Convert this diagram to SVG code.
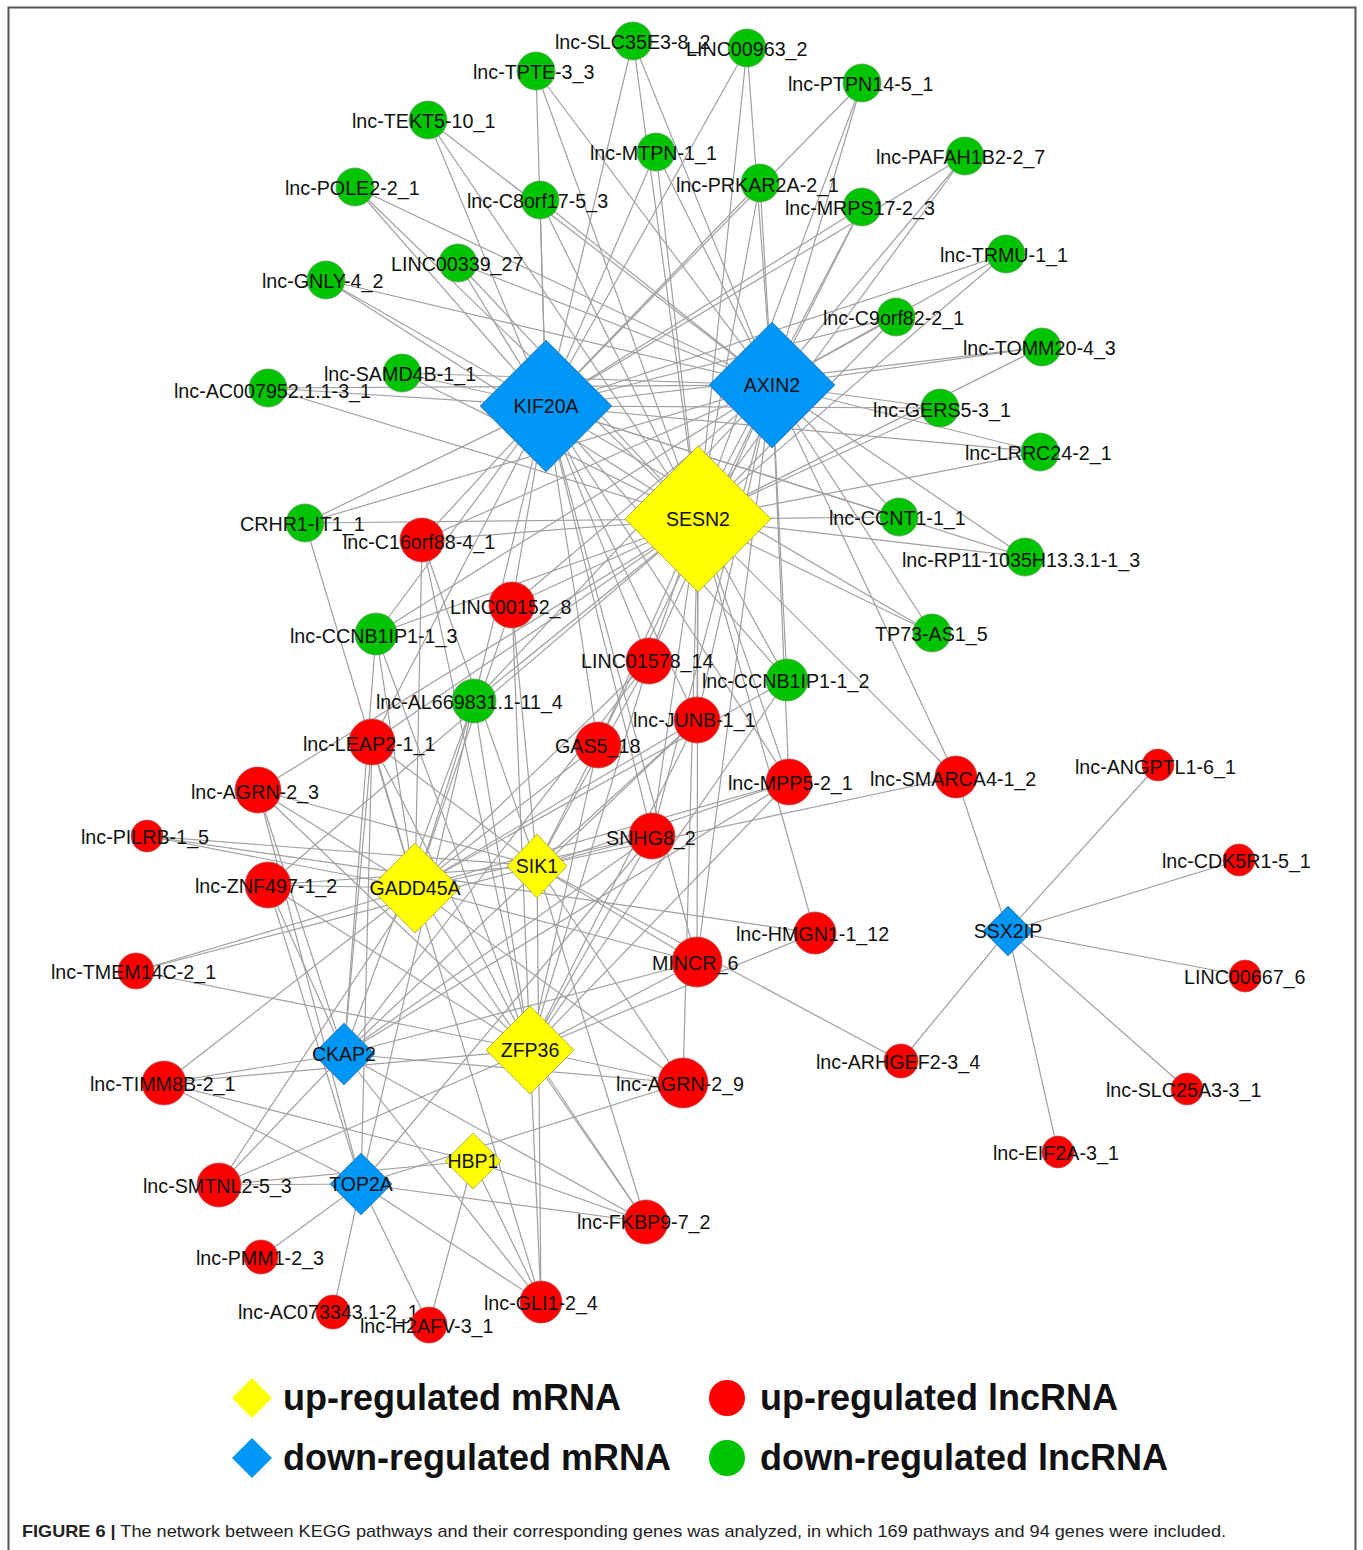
<svg xmlns="http://www.w3.org/2000/svg" width="1363" height="1550" viewBox="0 0 1363 1550">
<style>
.e line{stroke:#a0a0a0;stroke-width:1.2}
.g{fill:#00c400;stroke:#6a9a6a;stroke-width:0.8}
.r{fill:#ff0000;stroke:#b05050;stroke-width:0.8}
.dy{fill:#ffff00;stroke:#a0a040;stroke-width:0.8}
.db{fill:#0096f6;stroke:#5080a0;stroke-width:0.8}
text{font-family:"Liberation Sans",Arial,sans-serif;fill:#111}
.l{font-size:19.7px}
.c{font-size:19.5px;text-anchor:middle}
.lg{font-size:36px;font-weight:bold}
.cap{font-size:17px;fill:#222}
</style>
<rect width="1363" height="1550" fill="#fff"/>
<path d="M8.5,1550 V7.5 H1355.5 V1550" fill="none" stroke="#555" stroke-width="2"/>
<g id="connectors" class="e">
<line x1="633" y1="41" x2="546" y2="406"/><line x1="633" y1="41" x2="772" y2="385"/><line x1="633" y1="41" x2="698" y2="519"/>
<line x1="747" y1="48" x2="546" y2="406"/><line x1="747" y1="48" x2="772" y2="385"/><line x1="747" y1="48" x2="698" y2="519"/>
<line x1="536" y1="71" x2="546" y2="406"/><line x1="536" y1="71" x2="772" y2="385"/><line x1="536" y1="71" x2="698" y2="519"/>
<line x1="862" y1="83" x2="546" y2="406"/><line x1="862" y1="83" x2="772" y2="385"/><line x1="862" y1="83" x2="698" y2="519"/>
<line x1="428" y1="120" x2="546" y2="406"/><line x1="428" y1="120" x2="772" y2="385"/><line x1="428" y1="120" x2="698" y2="519"/>
<line x1="656" y1="152" x2="546" y2="406"/><line x1="656" y1="152" x2="772" y2="385"/><line x1="656" y1="152" x2="698" y2="519"/>
<line x1="965" y1="156" x2="546" y2="406"/><line x1="965" y1="156" x2="772" y2="385"/><line x1="965" y1="156" x2="698" y2="519"/>
<line x1="355" y1="187" x2="546" y2="406"/><line x1="355" y1="187" x2="772" y2="385"/><line x1="355" y1="187" x2="698" y2="519"/>
<line x1="540" y1="200" x2="546" y2="406"/><line x1="540" y1="200" x2="772" y2="385"/><line x1="540" y1="200" x2="698" y2="519"/>
<line x1="760" y1="183" x2="546" y2="406"/><line x1="760" y1="183" x2="772" y2="385"/><line x1="760" y1="183" x2="698" y2="519"/>
<line x1="862" y1="207" x2="546" y2="406"/><line x1="862" y1="207" x2="772" y2="385"/><line x1="862" y1="207" x2="698" y2="519"/>
<line x1="1006" y1="254" x2="546" y2="406"/><line x1="1006" y1="254" x2="772" y2="385"/><line x1="1006" y1="254" x2="698" y2="519"/>
<line x1="458" y1="263" x2="546" y2="406"/><line x1="458" y1="263" x2="772" y2="385"/><line x1="458" y1="263" x2="698" y2="519"/>
<line x1="326" y1="280" x2="546" y2="406"/><line x1="326" y1="280" x2="772" y2="385"/><line x1="326" y1="280" x2="698" y2="519"/>
<line x1="896" y1="317" x2="546" y2="406"/><line x1="896" y1="317" x2="772" y2="385"/><line x1="896" y1="317" x2="698" y2="519"/>
<line x1="1042" y1="347" x2="546" y2="406"/><line x1="1042" y1="347" x2="772" y2="385"/><line x1="1042" y1="347" x2="698" y2="519"/>
<line x1="402" y1="373" x2="546" y2="406"/><line x1="402" y1="373" x2="772" y2="385"/><line x1="402" y1="373" x2="698" y2="519"/>
<line x1="268" y1="388" x2="546" y2="406"/><line x1="268" y1="388" x2="772" y2="385"/><line x1="268" y1="388" x2="698" y2="519"/>
<line x1="940" y1="408" x2="546" y2="406"/><line x1="940" y1="408" x2="772" y2="385"/><line x1="940" y1="408" x2="698" y2="519"/>
<line x1="1040" y1="452" x2="546" y2="406"/><line x1="1040" y1="452" x2="772" y2="385"/><line x1="1040" y1="452" x2="698" y2="519"/>
<line x1="899" y1="517" x2="546" y2="406"/><line x1="899" y1="517" x2="772" y2="385"/><line x1="899" y1="517" x2="698" y2="519"/>
<line x1="1025" y1="557" x2="546" y2="406"/><line x1="1025" y1="557" x2="772" y2="385"/><line x1="1025" y1="557" x2="698" y2="519"/>
<line x1="932" y1="633" x2="546" y2="406"/><line x1="932" y1="633" x2="772" y2="385"/><line x1="932" y1="633" x2="698" y2="519"/>
<line x1="305" y1="523" x2="546" y2="406"/><line x1="305" y1="523" x2="772" y2="385"/><line x1="305" y1="523" x2="698" y2="519"/><line x1="305" y1="523" x2="415" y2="888"/>
<line x1="422" y1="540" x2="546" y2="406"/><line x1="422" y1="540" x2="772" y2="385"/><line x1="422" y1="540" x2="698" y2="519"/><line x1="422" y1="540" x2="415" y2="888"/><line x1="422" y1="540" x2="537" y2="866"/><line x1="422" y1="540" x2="530" y2="1050"/>
<line x1="512" y1="605" x2="546" y2="406"/><line x1="512" y1="605" x2="772" y2="385"/><line x1="512" y1="605" x2="698" y2="519"/><line x1="512" y1="605" x2="415" y2="888"/><line x1="512" y1="605" x2="537" y2="866"/><line x1="512" y1="605" x2="530" y2="1050"/>
<line x1="376" y1="634" x2="546" y2="406"/><line x1="376" y1="634" x2="772" y2="385"/><line x1="376" y1="634" x2="698" y2="519"/><line x1="376" y1="634" x2="415" y2="888"/><line x1="376" y1="634" x2="344" y2="1054"/><line x1="376" y1="634" x2="530" y2="1050"/>
<line x1="474" y1="701" x2="546" y2="406"/><line x1="474" y1="701" x2="772" y2="385"/><line x1="474" y1="701" x2="698" y2="519"/><line x1="474" y1="701" x2="415" y2="888"/><line x1="474" y1="701" x2="344" y2="1054"/><line x1="474" y1="701" x2="530" y2="1050"/><line x1="474" y1="701" x2="361" y2="1184"/>
<line x1="372" y1="742" x2="546" y2="406"/><line x1="372" y1="742" x2="698" y2="519"/><line x1="372" y1="742" x2="415" y2="888"/><line x1="372" y1="742" x2="530" y2="1050"/><line x1="372" y1="742" x2="361" y2="1184"/><line x1="372" y1="742" x2="344" y2="1054"/><line x1="372" y1="742" x2="537" y2="866"/>
<line x1="649" y1="661" x2="546" y2="406"/><line x1="649" y1="661" x2="772" y2="385"/><line x1="649" y1="661" x2="698" y2="519"/><line x1="649" y1="661" x2="415" y2="888"/><line x1="649" y1="661" x2="537" y2="866"/><line x1="649" y1="661" x2="530" y2="1050"/><line x1="649" y1="661" x2="344" y2="1054"/>
<line x1="697" y1="720" x2="546" y2="406"/><line x1="697" y1="720" x2="772" y2="385"/><line x1="697" y1="720" x2="698" y2="519"/><line x1="697" y1="720" x2="415" y2="888"/><line x1="697" y1="720" x2="537" y2="866"/><line x1="697" y1="720" x2="530" y2="1050"/><line x1="697" y1="720" x2="344" y2="1054"/>
<line x1="598" y1="745" x2="546" y2="406"/><line x1="598" y1="745" x2="772" y2="385"/><line x1="598" y1="745" x2="698" y2="519"/><line x1="598" y1="745" x2="415" y2="888"/><line x1="598" y1="745" x2="537" y2="866"/><line x1="598" y1="745" x2="530" y2="1050"/>
<line x1="787" y1="680" x2="546" y2="406"/><line x1="787" y1="680" x2="772" y2="385"/><line x1="787" y1="680" x2="698" y2="519"/><line x1="787" y1="680" x2="415" y2="888"/><line x1="787" y1="680" x2="530" y2="1050"/>
<line x1="789" y1="782" x2="546" y2="406"/><line x1="789" y1="782" x2="772" y2="385"/><line x1="789" y1="782" x2="698" y2="519"/><line x1="789" y1="782" x2="415" y2="888"/><line x1="789" y1="782" x2="537" y2="866"/><line x1="789" y1="782" x2="530" y2="1050"/><line x1="789" y1="782" x2="344" y2="1054"/>
<line x1="652" y1="836" x2="546" y2="406"/><line x1="652" y1="836" x2="772" y2="385"/><line x1="652" y1="836" x2="698" y2="519"/><line x1="652" y1="836" x2="415" y2="888"/><line x1="652" y1="836" x2="537" y2="866"/><line x1="652" y1="836" x2="530" y2="1050"/><line x1="652" y1="836" x2="344" y2="1054"/><line x1="652" y1="836" x2="361" y2="1184"/>
<line x1="697" y1="962" x2="546" y2="406"/><line x1="697" y1="962" x2="772" y2="385"/><line x1="697" y1="962" x2="698" y2="519"/><line x1="697" y1="962" x2="415" y2="888"/><line x1="697" y1="962" x2="537" y2="866"/><line x1="697" y1="962" x2="530" y2="1050"/><line x1="697" y1="962" x2="344" y2="1054"/>
<line x1="956" y1="777" x2="698" y2="519"/><line x1="956" y1="777" x2="772" y2="385"/><line x1="956" y1="777" x2="537" y2="866"/><line x1="956" y1="777" x2="1008" y2="931"/>
<line x1="815" y1="933" x2="698" y2="519"/><line x1="815" y1="933" x2="147" y2="836"/><line x1="815" y1="933" x2="530" y2="1050"/>
<line x1="683" y1="1083" x2="698" y2="519"/><line x1="683" y1="1083" x2="415" y2="888"/><line x1="683" y1="1083" x2="537" y2="866"/><line x1="683" y1="1083" x2="530" y2="1050"/><line x1="683" y1="1083" x2="344" y2="1054"/><line x1="683" y1="1083" x2="361" y2="1184"/>
<line x1="646" y1="1222" x2="530" y2="1050"/><line x1="646" y1="1222" x2="415" y2="888"/><line x1="646" y1="1222" x2="537" y2="866"/><line x1="646" y1="1222" x2="361" y2="1184"/><line x1="646" y1="1222" x2="473" y2="1161"/><line x1="646" y1="1222" x2="344" y2="1054"/>
<line x1="901" y1="1061" x2="537" y2="866"/><line x1="901" y1="1061" x2="1008" y2="931"/>
<line x1="258" y1="790" x2="698" y2="519"/><line x1="258" y1="790" x2="415" y2="888"/><line x1="258" y1="790" x2="537" y2="866"/><line x1="258" y1="790" x2="530" y2="1050"/><line x1="258" y1="790" x2="344" y2="1054"/><line x1="258" y1="790" x2="361" y2="1184"/>
<line x1="147" y1="836" x2="537" y2="866"/><line x1="147" y1="836" x2="415" y2="888"/>
<line x1="268" y1="885" x2="698" y2="519"/><line x1="268" y1="885" x2="415" y2="888"/><line x1="268" y1="885" x2="537" y2="866"/><line x1="268" y1="885" x2="530" y2="1050"/><line x1="268" y1="885" x2="344" y2="1054"/><line x1="268" y1="885" x2="361" y2="1184"/>
<line x1="136" y1="971" x2="415" y2="888"/><line x1="136" y1="971" x2="537" y2="866"/><line x1="136" y1="971" x2="530" y2="1050"/>
<line x1="164" y1="1083" x2="415" y2="888"/><line x1="164" y1="1083" x2="344" y2="1054"/><line x1="164" y1="1083" x2="530" y2="1050"/><line x1="164" y1="1083" x2="361" y2="1184"/><line x1="164" y1="1083" x2="473" y2="1161"/>
<line x1="219" y1="1185" x2="415" y2="888"/><line x1="219" y1="1185" x2="344" y2="1054"/><line x1="219" y1="1185" x2="361" y2="1184"/><line x1="219" y1="1185" x2="530" y2="1050"/><line x1="219" y1="1185" x2="473" y2="1161"/>
<line x1="261" y1="1257" x2="361" y2="1184"/>
<line x1="333" y1="1312" x2="361" y2="1184"/>
<line x1="429" y1="1325" x2="361" y2="1184"/><line x1="429" y1="1325" x2="473" y2="1161"/>
<line x1="541" y1="1302" x2="361" y2="1184"/><line x1="541" y1="1302" x2="473" y2="1161"/><line x1="541" y1="1302" x2="530" y2="1050"/><line x1="541" y1="1302" x2="344" y2="1054"/><line x1="541" y1="1302" x2="415" y2="888"/><line x1="541" y1="1302" x2="537" y2="866"/>
<line x1="1158" y1="765" x2="1008" y2="931"/><line x1="1239" y1="860" x2="1008" y2="931"/><line x1="1245" y1="976" x2="1008" y2="931"/><line x1="1187" y1="1089" x2="1008" y2="931"/><line x1="1058" y1="1152" x2="1008" y2="931"/>
</g>
<g id="n-SLC35E3"><circle class="g" cx="633" cy="41" r="19"/><text class="l" x="555" y="49">lnc-SLC35E3-8_2</text></g>
<g id="n-LINC00963"><circle class="g" cx="747" cy="48" r="19"/><text class="l" x="686" y="56">LINC00963_2</text></g>
<g id="n-TPTE"><circle class="g" cx="536" cy="71" r="19"/><text class="l" x="473" y="79">lnc-TPTE-3_3</text></g>
<g id="n-PTPN14"><circle class="g" cx="862" cy="83" r="19"/><text class="l" x="788" y="91">lnc-PTPN14-5_1</text></g>
<g id="n-TEKT5"><circle class="g" cx="428" cy="120" r="19"/><text class="l" x="352" y="128">lnc-TEKT5-10_1</text></g>
<g id="n-MTPN"><circle class="g" cx="656" cy="152" r="19"/><text class="l" x="590" y="160">lnc-MTPN-1_1</text></g>
<g id="n-PAFAH1B2"><circle class="g" cx="965" cy="156" r="19"/><text class="l" x="876" y="164">lnc-PAFAH1B2-2_7</text></g>
<g id="n-POLE2"><circle class="g" cx="355" cy="187" r="19"/><text class="l" x="285" y="195">lnc-POLE2-2_1</text></g>
<g id="n-C8orf17"><circle class="g" cx="540" cy="200" r="19"/><text class="l" x="467" y="208">lnc-C8orf17-5_3</text></g>
<g id="n-PRKAR2A"><circle class="g" cx="760" cy="183" r="19"/><text class="l" x="676" y="192">lnc-PRKAR2A-2_1</text></g>
<g id="n-MRPS17"><circle class="g" cx="862" cy="207" r="19"/><text class="l" x="785" y="215">lnc-MRPS17-2_3</text></g>
<g id="n-TRMU"><circle class="g" cx="1006" cy="254" r="19"/><text class="l" x="940" y="262">lnc-TRMU-1_1</text></g>
<g id="n-LINC00339"><circle class="g" cx="458" cy="263" r="19"/><text class="l" x="391" y="271">LINC00339_27</text></g>
<g id="n-GNLY"><circle class="g" cx="326" cy="280" r="19"/><text class="l" x="262" y="288">lnc-GNLY-4_2</text></g>
<g id="n-C9orf82"><circle class="g" cx="896" cy="317" r="19"/><text class="l" x="823" y="325">lnc-C9orf82-2_1</text></g>
<g id="n-TOMM20"><circle class="g" cx="1042" cy="347" r="19"/><text class="l" x="963" y="355">lnc-TOMM20-4_3</text></g>
<g id="n-SAMD4B"><circle class="g" cx="402" cy="373" r="19"/><text class="l" x="324" y="381">lnc-SAMD4B-1_1</text></g>
<g id="n-AC007952"><circle class="g" cx="268" cy="388" r="19"/><text class="l" x="174" y="398">lnc-AC007952.1.1-3_1</text></g>
<g id="n-GERS5"><circle class="g" cx="940" cy="408" r="19"/><text class="l" x="873" y="417">lnc-GERS5-3_1</text></g>
<g id="n-LRRC24"><circle class="g" cx="1040" cy="452" r="19"/><text class="l" x="965" y="460">lnc-LRRC24-2_1</text></g>
<g id="n-CRHR1"><circle class="g" cx="305" cy="523" r="19"/><text class="l" x="240" y="531">CRHR1-IT1_1</text></g>
<g id="n-CCNT1"><circle class="g" cx="899" cy="517" r="19"/><text class="l" x="829" y="525">lnc-CCNT1-1_1</text></g>
<g id="n-RP11"><circle class="g" cx="1025" cy="557" r="19"/><text class="l" x="902" y="567">lnc-RP11-1035H13.3.1-1_3</text></g>
<g id="n-CCNB1IP1-3"><circle class="g" cx="376" cy="634" r="21"/><text class="l" x="290" y="643">lnc-CCNB1IP1-1_3</text></g>
<g id="n-TP73"><circle class="g" cx="932" cy="633" r="19"/><text class="l" x="875" y="641">TP73-AS1_5</text></g>
<g id="n-CCNB1IP1-2"><circle class="g" cx="787" cy="680" r="21"/><text class="l" x="702" y="688">lnc-CCNB1IP1-1_2</text></g>
<g id="n-AL669831"><circle class="g" cx="474" cy="701" r="22"/><text class="l" x="376" y="709">lnc-AL669831.1-11_4</text></g>
<g id="n-C16orf88"><circle class="r" cx="422" cy="540" r="22"/><text class="l" x="343" y="549">lnc-C16orf88-4_1</text></g>
<g id="n-LINC00152"><circle class="r" cx="512" cy="605" r="23"/><text class="l" x="450" y="614">LINC00152_8</text></g>
<g id="n-LINC01578"><circle class="r" cx="649" cy="661" r="23"/><text class="l" x="581" y="668">LINC01578_14</text></g>
<g id="n-JUNB"><circle class="r" cx="697" cy="720" r="23"/><text class="l" x="633" y="727">lnc-JUNB-1_1</text></g>
<g id="n-LEAP2"><circle class="r" cx="372" cy="742" r="23"/><text class="l" x="303" y="751">lnc-LEAP2-1_1</text></g>
<g id="n-GAS5"><circle class="r" cx="598" cy="745" r="23"/><text class="l" x="555" y="753">GAS5_18</text></g>
<g id="n-AGRN3"><circle class="r" cx="258" cy="790" r="23"/><text class="l" x="191" y="799">lnc-AGRN-2_3</text></g>
<g id="n-MPP5"><circle class="r" cx="789" cy="782" r="23"/><text class="l" x="728" y="790">lnc-MPP5-2_1</text></g>
<g id="n-SMARCA4"><circle class="r" cx="956" cy="777" r="21"/><text class="l" x="870" y="786">lnc-SMARCA4-1_2</text></g>
<g id="n-ANGPTL1"><circle class="r" cx="1158" cy="765" r="16"/><text class="l" x="1075" y="774">lnc-ANGPTL1-6_1</text></g>
<g id="n-PILRB"><circle class="r" cx="147" cy="836" r="16"/><text class="l" x="81" y="844">lnc-PILRB-1_5</text></g>
<g id="n-SNHG8"><circle class="r" cx="652" cy="836" r="23"/><text class="l" x="606" y="845">SNHG8_2</text></g>
<g id="n-CDK5R1"><circle class="r" cx="1239" cy="860" r="16"/><text class="l" x="1162" y="868">lnc-CDK5R1-5_1</text></g>
<g id="n-ZNF497"><circle class="r" cx="268" cy="885" r="23"/><text class="l" x="195" y="893">lnc-ZNF497-1_2</text></g>
<g id="n-HMGN1"><circle class="r" cx="815" cy="933" r="21"/><text class="l" x="736" y="941">lnc-HMGN1-1_12</text></g>
<g id="n-MINCR"><circle class="r" cx="697" cy="962" r="25"/><text class="l" x="652" y="970">MINCR_6</text></g>
<g id="n-TMEM14C"><circle class="r" cx="136" cy="971" r="18"/><text class="l" x="51" y="979">lnc-TMEM14C-2_1</text></g>
<g id="n-LINC00667"><circle class="r" cx="1245" cy="976" r="16"/><text class="l" x="1184" y="984">LINC00667_6</text></g>
<g id="n-ARHGEF2"><circle class="r" cx="901" cy="1061" r="17"/><text class="l" x="816" y="1069">lnc-ARHGEF2-3_4</text></g>
<g id="n-TIMM8B"><circle class="r" cx="164" cy="1083" r="22"/><text class="l" x="90" y="1091">lnc-TIMM8B-2_1</text></g>
<g id="n-AGRN9"><circle class="r" cx="683" cy="1083" r="25"/><text class="l" x="616" y="1091">lnc-AGRN-2_9</text></g>
<g id="n-SLC25A3"><circle class="r" cx="1187" cy="1089" r="16"/><text class="l" x="1106" y="1097">lnc-SLC25A3-3_1</text></g>
<g id="n-EIF2A"><circle class="r" cx="1058" cy="1152" r="16"/><text class="l" x="993" y="1160">lnc-EIF2A-3_1</text></g>
<g id="n-SMTNL2"><circle class="r" cx="219" cy="1185" r="22"/><text class="l" x="143" y="1193">lnc-SMTNL2-5_3</text></g>
<g id="n-FKBP9"><circle class="r" cx="646" cy="1222" r="22"/><text class="l" x="577" y="1229">lnc-FKBP9-7_2</text></g>
<g id="n-PMM1"><circle class="r" cx="261" cy="1257" r="17"/><text class="l" x="196" y="1265">lnc-PMM1-2_3</text></g>
<g id="n-GLI1"><circle class="r" cx="541" cy="1302" r="21"/><text class="l" x="484" y="1310">lnc-GLI1-2_4</text></g>
<g id="n-AC073343"><circle class="r" cx="333" cy="1312" r="17"/><text class="l" x="238" y="1319">lnc-AC073343.1-2_1</text></g>
<g id="n-H2AFV"><circle class="r" cx="429" cy="1325" r="18"/><text class="l" x="360" y="1333">lnc-H2AFV-3_1</text></g>
<g id="n-KIF20A"><polygon class="db" points="546,340 612,406 546,472 480,406"/><text class="c" x="546" y="413">KIF20A</text></g>
<g id="n-AXIN2"><polygon class="db" points="772,322 835,385 772,448 709,385"/><text class="c" x="772" y="392">AXIN2</text></g>
<g id="n-SESN2"><polygon class="dy" points="698,446 771,519 698,592 625,519"/><text class="c" x="698" y="526">SESN2</text></g>
<g id="n-GADD45A"><polygon class="dy" points="415,843 460,888 415,933 370,888"/><text class="c" x="415" y="895">GADD45A</text></g>
<g id="n-SIK1"><polygon class="dy" points="537,834 567,866 537,898 507,866"/><text class="c" x="537" y="873">SIK1</text></g>
<g id="n-ZFP36"><polygon class="dy" points="530,1006 574,1050 530,1094 486,1050"/><text class="c" x="530" y="1057">ZFP36</text></g>
<g id="n-CKAP2"><polygon class="db" points="344,1023 375,1054 344,1085 313,1054"/><text class="c" x="344" y="1061">CKAP2</text></g>
<g id="n-HBP1"><polygon class="dy" points="473,1133 501,1161 473,1189 445,1161"/><text class="c" x="473" y="1168">HBP1</text></g>
<g id="n-TOP2A"><polygon class="db" points="361,1153 392,1184 361,1215 330,1184"/><text class="c" x="361" y="1191">TOP2A</text></g>
<g id="n-SSX2IP"><polygon class="db" points="1008,906 1033,931 1008,956 983,931"/><text class="c" x="1008" y="938">SSX2IP</text></g>
<g id="legend">
<polygon points="252,1378 272,1398 252,1418 232,1398" fill="#ffff00"/>
<text class="lg" x="283" y="1410">up-regulated mRNA</text>
<circle cx="727" cy="1398" r="18" fill="#ff0000"/>
<text class="lg" x="760" y="1410">up-regulated lncRNA</text>
<polygon points="252,1438 272,1458 252,1478 232,1458" fill="#0096f6"/>
<text class="lg" x="283" y="1470">down-regulated mRNA</text>
<circle cx="727" cy="1458" r="18" fill="#00c400"/>
<text class="lg" x="760" y="1470">down-regulated lncRNA</text>
</g>
<text class="cap" x="22" y="1537" textLength="1204" lengthAdjust="spacingAndGlyphs"><tspan font-weight="bold">FIGURE 6 |</tspan> The network between KEGG pathways and their corresponding genes was analyzed, in which 169 pathways and 94 genes were included.</text>
</svg>
